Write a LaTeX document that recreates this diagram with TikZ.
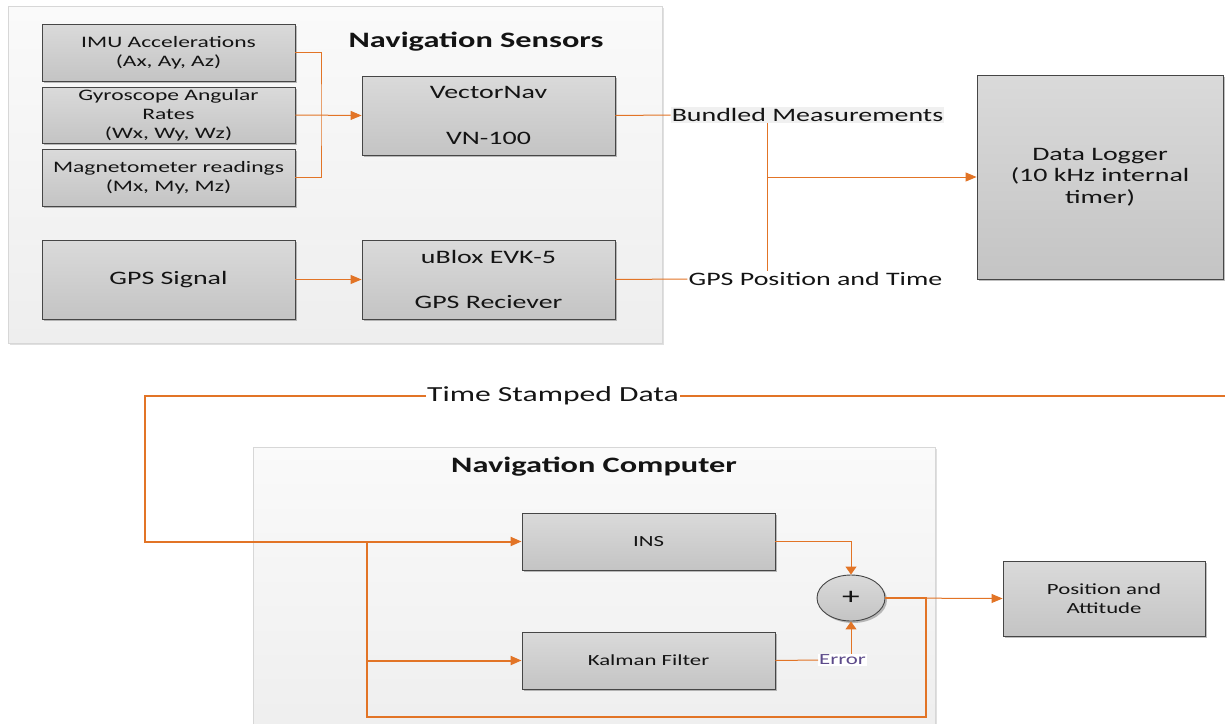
\documentclass[tikz,border=0pt]{standalone}
\usepackage{fontspec}
\setmainfont{Carlito}[FakeStretch=1.47]
\usetikzlibrary{arrows.meta,shapes.geometric,shadows}
\definecolor{wirec}{RGB}{226,116,38}
\definecolor{boxline}{RGB}{70,70,70}
\definecolor{boxtop}{RGB}{218,218,218}
\definecolor{boxbot}{RGB}{196,196,196}
\definecolor{grpline}{RGB}{215,215,215}
\definecolor{grptop}{RGB}{250,250,250}
\definecolor{grpbot}{RGB}{238,238,238}
\definecolor{txt}{RGB}{20,20,20}
\definecolor{errc}{RGB}{92,74,138}
\begin{document}
\begin{tikzpicture}[x=1pt,y=-1pt,
  wire/.style={draw=wirec,line width=1pt},
  thickwire/.style={draw=wirec,line width=2pt},
  harrow/.style={-{Triangle[length=11pt,width=9pt]}},
  varrow/.style={-{Triangle[length=8pt,width=11pt]}},
  block/.style={draw=boxline,line width=0.9pt,top color=boxtop,bottom color=boxbot,
    inner sep=0pt,align=center,text=txt,
    drop shadow={shadow xshift=2pt,shadow yshift=-2pt,opacity=0.25,fill=black}},
  group/.style={draw=grpline,line width=0.8pt,top color=grptop,bottom color=grpbot,inner sep=0pt,
    drop shadow={shadow xshift=2pt,shadow yshift=-2pt,opacity=0.12,fill=black}},
  lbl/.style={inner sep=1pt,text=txt},
  fsmall/.style={font=\fontsize{16}{19}\selectfont},
  fmid/.style={font=\fontsize{19}{23}\selectfont},
  fbox/.style={font=\fontsize{15.5}{19}\selectfont},
  ftitle/.style={font=\bfseries\fontsize{22}{26}\selectfont},
]
\clip (0,0) rectangle (1225,723);
\fill[white] (0,0) rectangle (1225,723);

% containers
\node[group,minimum width=654pt,minimum height=337pt] (sensors) at (335,174.5) {};
\node[group,minimum width=682pt,minimum height=293pt] (computer) at (594,593.5) {};
\node[lbl,ftitle] (senstitle) at (476,42) {Navigation Sensors};
\node[lbl,ftitle] (comptitle) at (594,467) {Navigation Computer};

% sensor blocks
\node[block,fsmall,minimum width=253pt,minimum height=57pt] (imu) at (168.5,52.5) {IMU Accelerations\\(Ax, Ay, Az)};
\node[block,fsmall,minimum width=253pt,minimum height=56pt] (gyro) at (168.5,115) {Gyroscope Angular\\Rates\\(Wx, Wy, Wz)};
\node[block,fsmall,minimum width=253pt,minimum height=57pt] (mag) at (168.5,177.5) {Magnetometer readings\\(Mx, My, Mz)};
\node[block,fmid,minimum width=253pt,minimum height=79pt] (gpssig) at (168.5,279.5) {GPS Signal};
\node[block,fmid,minimum width=253pt,minimum height=79pt] (vn) at (488.5,115.5) {VectorNav\\[23pt]VN-100};
\node[block,fmid,minimum width=253pt,minimum height=79pt] (ublox) at (488.5,279.5) {uBlox EVK-5\\[22pt]GPS Reciever};
\node[block,font=\fontsize{19}{21.5}\selectfont,minimum width=246pt,minimum height=204pt] (logger) at (1100,177) {Data Logger\\(10 kHz internal\\timer)};

% computer blocks
\node[block,fbox,minimum width=253pt,minimum height=57pt] (ins) at (648.5,541.5) {INS};
\node[block,fbox,minimum width=253pt,minimum height=57pt] (kalman) at (648.5,660.5) {Kalman Filter};
\node[block,ellipse,font=\fontsize{24}{24}\selectfont,minimum width=68pt,minimum height=46pt] (sum) at (851,598) {+};
\node[block,fbox,minimum width=202pt,minimum height=75pt] (pos) at (1104,598.5) {Position and\\Attitude};

% labels
\node[lbl,fmid,fill=black!6] (bundled) at (807.5,115) {Bundled Measurements};
\node[lbl,fmid,fill=white] (gpspt) at (815.5,279) {GPS Position and Time};
\node[lbl,font=\fontsize{21.5}{24}\selectfont,fill=white] (tsd) at (553,396) {Time Stamped Data};
\node[lbl,fbox,fill=white,text=errc] (err) at (842.5,660) {Error};

% coordinates
\coordinate (bus) at (321,115);
\coordinate (tap) at (767,177);
\coordinate (tsR) at (1225,396);
\coordinate (tsL) at (145,396);
\coordinate (br) at (367,541.5);
\coordinate (lb) at (367,717);
\coordinate (rb) at (926,717);

% sensor wiring
\draw[wire] (imu.east) -| (bus) |- (mag.east);
\draw[wire,harrow] (gyro.east) -- (vn.west);
\draw[wire,harrow] (gpssig.east) -- (ublox.west);
\draw[wire] (vn.east) -- (bundled.west);
\draw[wire] (ublox.east) -- (gpspt.west);
\draw[wire] (tap |- bundled.south) -- (tap |- gpspt.north);
\draw[wire,harrow] (tap) -- (logger.west);

% time stamped loop
\draw[thickwire] (tsR) -- (tsd.east);
\draw[thickwire,harrow] (tsd.west) -- (tsL) |- (ins.west);
\draw[thickwire,harrow] (br) |- (kalman.west);
\draw[thickwire] (br) -- (lb) -- (rb) -- (rb |- sum.east) -- (sum.east);

% computer wiring
\draw[wire,varrow] (ins.east) -| (sum.north);
\draw[wire] (kalman.east) -- (err.west);
\draw[wire,varrow] (sum |- err.north) -- (sum.south);
\draw[wire,harrow] (sum.east) -- (pos.west);
\end{tikzpicture}
\end{document}
